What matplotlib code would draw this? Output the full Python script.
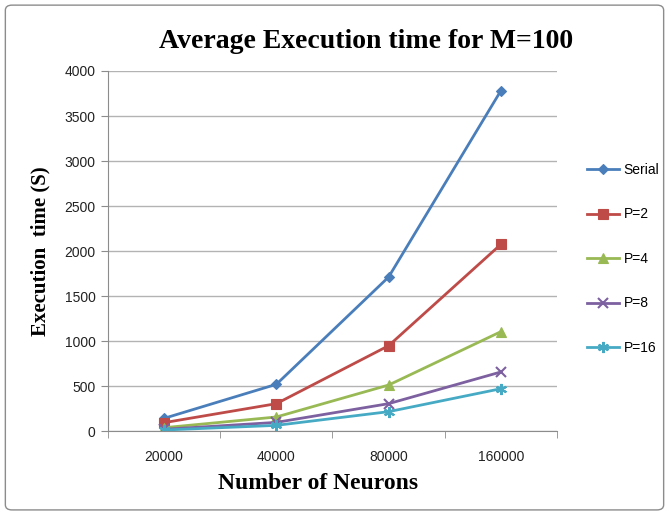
import matplotlib.pyplot as plt
import numpy as np
from matplotlib.patches import FancyBboxPatch

# neurons on the x axis, seconds on the y axis
neurons = ['20000', '40000', '80000', '160000']
serial = [141, 519, 1711, 3781]
p2 = [93, 304, 948, 2074]
p4 = [37, 156, 511, 1104]
p8 = [19, 96, 304, 656]
p16 = [11, 63, 215, 470]

series = [('Serial', serial, '#4A7EBB', 'D', 5),
          ('P=2', p2, '#BE4B48', 's', 7),
          ('P=4', p4, '#98B954', '^', 7),
          ('P=8', p8, '#7D60A0', 'x', 7),
          ('P=16', p16, '#46AAC5', (6, 2, 0), 8)]

fig = plt.figure(figsize=(6.69, 5.13), dpi=100)
fig.patches.append(FancyBboxPatch((0.008, 0.006), 0.984, 0.984, boxstyle='round,pad=0,rounding_size=0.01',
                                  transform=fig.transFigure, fill=False, edgecolor='#8c8c8c', linewidth=1.0))
ax = fig.add_axes([0.1614, 0.1598, 0.6712, 0.7018])

x = np.arange(len(neurons))
for name, vals, col, mk, ms in series:
    ax.plot(x, vals, color=col, marker=mk, markersize=ms, linewidth=2, label=name,
            markeredgewidth=1.5 if mk in ('x',) or isinstance(mk, tuple) else 0.8)

ax.set_xlim(-0.5, 3.5)
ax.set_ylim(0, 4000)
ax.set_yticks(np.arange(0, 4001, 500))
ax.yaxis.grid(True, color='#b3b3b3', linewidth=1)
ax.set_axisbelow(True)

ax.set_xticks(x)
ax.set_xticklabels(neurons)
ax.set_xticks(np.arange(-0.5, 4, 1), minor=True)
ax.tick_params(axis='x', which='major', length=0, pad=14)
ax.tick_params(axis='x', which='minor', length=5, color='#8c8c8c')
ax.tick_params(axis='y', length=5, color='#8c8c8c', pad=4)
for lab in ax.get_xticklabels() + ax.get_yticklabels():
    lab.set_fontfamily('Liberation Sans')
    lab.set_fontsize(10)
    lab.set_color('#222222')

for s in ['top', 'right']:
    ax.spines[s].set_visible(False)
for s in ['left', 'bottom']:
    ax.spines[s].set_color('#8c8c8c')

fig.text(0.547, 0.92, 'Average Execution time for M=100', ha='center', va='center',
         fontfamily='Liberation Serif', fontweight='bold', fontsize=20)
fig.text(0.475, 0.058, 'Number of Neurons', ha='center', va='center',
         fontfamily='Liberation Serif', fontweight='bold', fontsize=17)
ax.set_ylabel('Execution  time (S)', fontfamily='Liberation Serif', fontweight='bold', fontsize=15, labelpad=10)

leg = ax.legend(loc='center left', bbox_to_anchor=(1.04, 0.478), frameon=False, handlelength=2.3,
                handletextpad=0.3, labelspacing=2.2, prop={'family': 'Liberation Sans', 'size': 10})

fig.savefig('out.png', dpi=100)
